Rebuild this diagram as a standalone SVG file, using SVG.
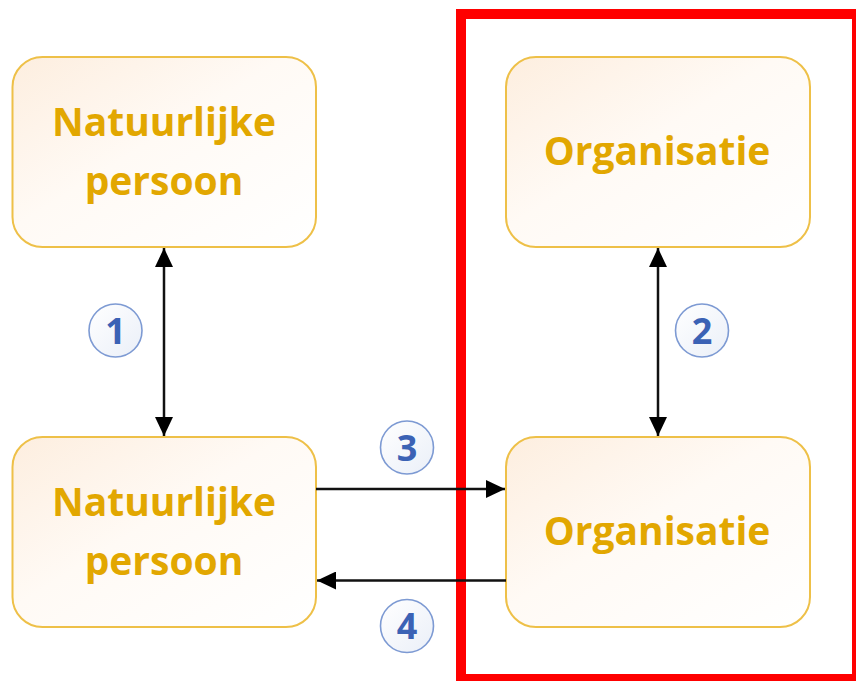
<svg xmlns="http://www.w3.org/2000/svg" width="856" height="681" viewBox="0 0 856 681">
<defs>
<linearGradient id="boxFill" x1="0" y1="0" x2="1" y2="1">
<stop offset="0" stop-color="#FDEEDF"/>
<stop offset="0.45" stop-color="#FFFAF5"/>
<stop offset="1" stop-color="#FFFFFF"/>
</linearGradient>
<linearGradient id="circFill" x1="0" y1="0" x2="1" y2="1">
<stop offset="0" stop-color="#FFFFFF"/>
<stop offset="1" stop-color="#EAEFF8"/>
</linearGradient>
<marker id="ah" markerUnits="userSpaceOnUse" markerWidth="20" markerHeight="18" refX="19" refY="9" orient="auto-start-reverse">
<path d="M0,0 L19,9 L0,18 Z" fill="#000"/>
</marker>
<style>
.box{fill:url(#boxFill);stroke:#EEC048;stroke-width:2}
.lbl{font-family:"Open Sans","Liberation Sans",sans-serif;font-weight:bold;font-size:39px;fill:#E2A700;text-anchor:middle}
.circ{fill:url(#circFill);stroke:#7D9AD3;stroke-width:1.6}
.num{font-family:"Open Sans","Liberation Sans",sans-serif;font-weight:bold;font-size:36px;fill:#3B62B5;text-anchor:middle}
.con{stroke:#111;stroke-width:2.5;fill:none}
</style>
</defs>
<rect width="856" height="681" fill="#FFFFFF"/>
<rect id="frame" x="461" y="14" width="396" height="665" fill="none" stroke="#FF0000" stroke-width="10"/>
<g id="np1">
<rect class="box" x="12.5" y="57" width="303.5" height="190" rx="30"/>
<text class="lbl" x="164" y="136">Natuurlijke</text>
<text class="lbl" x="164" y="195">persoon</text>
</g>
<g id="org1">
<rect class="box" x="506" y="57" width="304" height="190" rx="30"/>
<text class="lbl" x="657" y="165">Organisatie</text>
</g>
<g id="np2">
<rect class="box" x="12.5" y="437" width="303.5" height="190" rx="30"/>
<text class="lbl" x="164" y="516">Natuurlijke</text>
<text class="lbl" x="164" y="575">persoon</text>
</g>
<g id="org2">
<rect class="box" x="506" y="437" width="304" height="190" rx="30"/>
<text class="lbl" x="657" y="545">Organisatie</text>
</g>
<g id="connectors">
<line class="con" x1="164" y1="248" x2="164" y2="436" marker-start="url(#ah)" marker-end="url(#ah)"/>
<line class="con" x1="658" y1="248" x2="658" y2="436" marker-start="url(#ah)" marker-end="url(#ah)"/>
<line class="con" x1="316" y1="489" x2="505" y2="489" marker-end="url(#ah)"/>
<line class="con" x1="506" y1="580.5" x2="317" y2="580.5" marker-end="url(#ah)"/>
</g>
<g id="badge1">
<circle class="circ" cx="115.5" cy="330.5" r="26.5"/>
<text class="num" x="115.5" y="343.5">1</text>
</g>
<g id="badge2">
<circle class="circ" cx="702" cy="330.5" r="26.5"/>
<text class="num" x="702" y="343.5">2</text>
</g>
<g id="badge3">
<circle class="circ" cx="407" cy="447.5" r="26.5"/>
<text class="num" x="407" y="460.5">3</text>
</g>
<g id="badge4">
<circle class="circ" cx="407" cy="626" r="26.5"/>
<text class="num" x="407" y="639">4</text>
</g>
</svg>
